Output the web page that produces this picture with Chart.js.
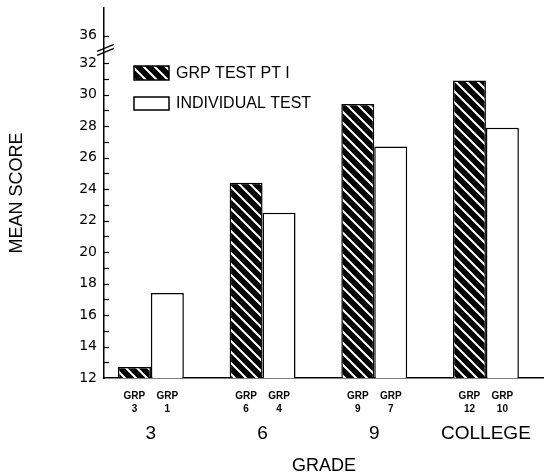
<!DOCTYPE html>
<html>
<head>
<meta charset="utf-8">
<script src="https://cdn.jsdelivr.net/npm/chart.js@4.4.0/dist/chart.umd.min.js"></script>
<style>
  html, body { margin: 0; padding: 0; background: #fff; }
  #wrap { width: 544px; height: 475px; }
</style>
</head>
<body>
<div id="wrap"><canvas id="chart" width="544" height="475"></canvas></div>
<script>
// data
const grades = ['3', '6', '9', 'COLLEGE'];
const groupTestScores = [12.7, 24.4, 29.4, 30.9];
const individualScores = [17.4, 22.5, 26.7, 27.9];
const groupTestGrp = ['3', '6', '9', '12'];
const individualGrp = ['1', '4', '7', '10'];
const yTickValues = [12, 14, 16, 18, 20, 22, 24, 26, 28, 30, 32];
const yBreakValue = 33.75;   // where the "36" sits above the axis break
const yBreakLabel = '36';

const FONT = "'Liberation Sans', Arial, sans-serif";

// hatch pattern: black with white "\" stripes
function makeHatch() {
    const c = document.createElement('canvas');
    c.width = 11; c.height = 11;
    const g = c.getContext('2d');
    g.fillStyle = '#000';
    g.fillRect(0, 0, 11, 11);
    g.strokeStyle = '#fff';
    g.lineWidth = 2;
    [-11, 0, 11].forEach(dx => {
        g.beginPath();
        g.moveTo(dx - 1, -1);
        g.lineTo(dx + 12, 12);
        g.stroke();
    });
    return g.createPattern(c, 'repeat');
}
const hatch = makeHatch();

const decorations = {
    id: 'decorations',
    afterDraw(chart) {
        const ctx = chart.ctx;
        const y = chart.scales.y;
        const area = chart.chartArea;
        ctx.save();
        ctx.strokeStyle = '#000';
        ctx.lineWidth = 1.2;

        // inner tick marks (major + minor)
        const marks = [];
        for (let v = y.min + 1; v <= 32; v++) marks.push(v);
        marks.push(yBreakValue);
        marks.forEach(v => {
            const py = Math.round(y.getPixelForValue(v)) + 0.5;
            ctx.beginPath();
            ctx.moveTo(area.left, py);
            ctx.lineTo(area.left + 5, py);
            ctx.stroke();
        });

        // axis break
        const bp = (y.getPixelForValue(32) + y.getPixelForValue(yBreakValue)) / 2;
        ctx.lineWidth = 1.3;
        [-2, 2].forEach(o => {
            ctx.beginPath();
            ctx.moveTo(area.left - 7, bp + o + 4);
            ctx.lineTo(area.left + 10, bp + o - 3);
            ctx.stroke();
        });

        // GRP labels under each bar
        ctx.fillStyle = '#000';
        ctx.font = 'bold 10px ' + FONT;
        ctx.textAlign = 'center';
        ctx.textBaseline = 'middle';
        const grpSets = [groupTestGrp, individualGrp];
        chart.data.datasets.forEach((ds, di) => {
            chart.getDatasetMeta(di).data.forEach((bar, i) => {
                ctx.fillText('GRP', bar.x, area.bottom + 18);
                ctx.fillText(grpSets[di][i], bar.x, area.bottom + 31);
            });
        });

        // legend
        ctx.font = '16px ' + FONT;
        ctx.textAlign = 'left';
        const rows = [{ y: 66, h: 14 }, { y: 97, h: 13 }];
        chart.data.datasets.forEach((ds, di) => {
            const r = rows[di];
            ctx.fillStyle = ds.backgroundColor;
            ctx.fillRect(134, r.y, 35, r.h);
            ctx.lineWidth = 1.5;
            ctx.strokeRect(134, r.y, 35, r.h);
            ctx.fillStyle = '#000';
            ctx.fillText(ds.label, 176, r.y + r.h / 2 + 0.5);
        });
        ctx.restore();
    }
};

new Chart(document.getElementById('chart').getContext('2d'), {
    type: 'bar',
    data: {
        datasets: [{
            label: 'GRP TEST PT I',
            data: groupTestScores.map((v, i) => ({ x: i, y: v })),
            backgroundColor: hatch,
            borderColor: '#000',
            borderWidth: 1.5
        }, {
            label: 'INDIVIDUAL TEST',
            data: individualScores.map((v, i) => ({ x: i, y: v })),
            backgroundColor: '#fff',
            borderColor: '#000',
            borderWidth: 1.5
        }]
    },
    options: {
        responsive: false,
        animation: false,
        devicePixelRatio: 1,
        layout: { padding: { top: 8, right: 0, left: 0, bottom: 0 } },
        datasets: { bar: { categoryPercentage: 0.59, barPercentage: 1 } },
        plugins: {
            legend: { display: false },
            tooltip: { enabled: false }
        },
        scales: {
            x: {
                type: 'linear',
                offset: false,
                min: -0.42,
                max: 3.52,
                grid: { display: false, drawTicks: false },
                border: { display: true, color: '#000', width: 1.5 },
                afterBuildTicks: s => { s.ticks = grades.map((g, i) => ({ value: i })); },
                afterFit: s => { s.height = 97; s.paddingLeft = 0; s.paddingRight = 0; },
                ticks: {
                    autoSkip: false,
                    maxRotation: 0,
                    padding: 46,
                    color: '#000',
                    font: { family: FONT, size: 19, lineHeight: 1 },
                    callback: v => grades[v] ?? ''
                },
                title: {
                    display: true,
                    text: 'GRADE',
                    color: '#000',
                    font: { family: FONT, size: 18, lineHeight: 1 },
                    padding: { top: 0, bottom: 0 }
                }
            },
            y: {
                min: 12,
                max: 35.5,
                grid: { display: false, drawTicks: false },
                border: { display: true, color: '#000', width: 1.5 },
                afterBuildTicks: s => {
                    s.ticks = yTickValues.concat([yBreakValue]).map(v => ({ value: v }));
                },
                afterFit: s => { s.width = 104; s.paddingTop = 0; s.paddingBottom = 0; },
                ticks: {
                    autoSkip: false,
                    padding: 7,
                    color: '#000',
                    font: { family: "'DejaVu Sans', sans-serif", size: 14 },
                    callback: v => v === yBreakValue ? yBreakLabel : String(v)
                },
                title: {
                    display: true,
                    text: 'MEAN SCORE',
                    color: '#000',
                    font: { family: FONT, size: 18, lineHeight: 1 },
                    padding: { top: 8, bottom: 0 }
                }
            }
        }
    },
    plugins: [decorations]
});
</script>
</body>
</html>
